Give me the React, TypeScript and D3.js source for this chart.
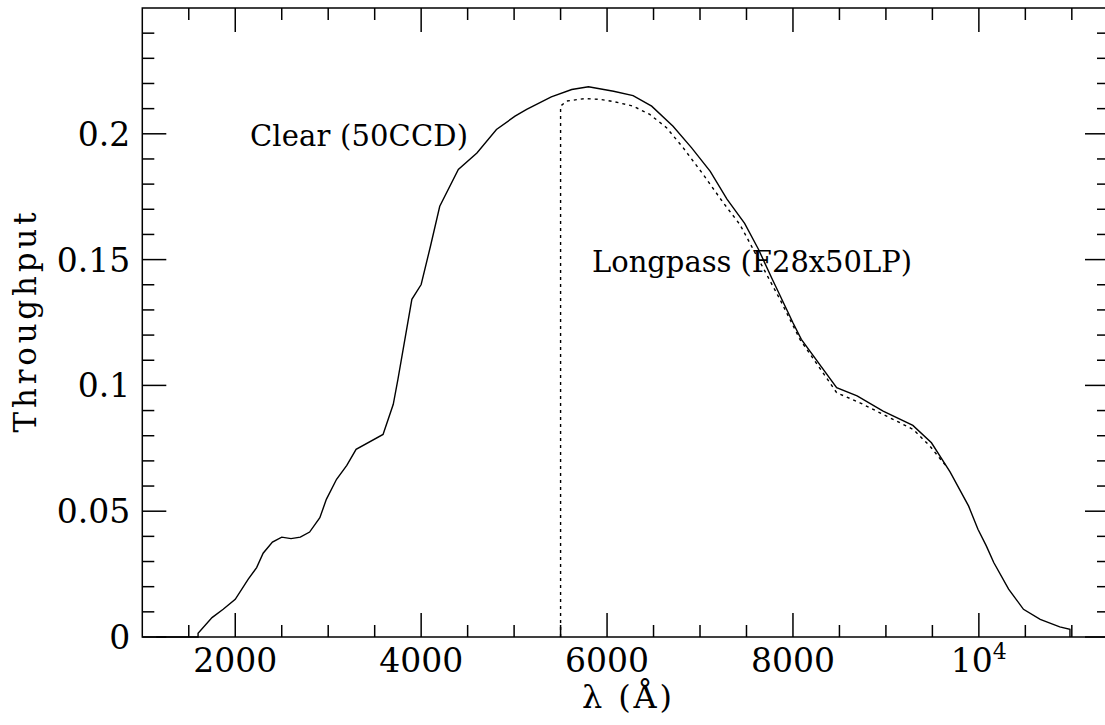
import { useEffect, useRef } from "react";
import * as d3 from "d3";

// Clear (50CCD) throughput
const clearWave = [1150, 1600, 1600, 1750, 1870, 2000, 2140, 2230, 2300, 2400, 2500, 2600, 2700, 2800, 2910, 2980, 3090, 3200, 3300, 3590, 3700, 3750, 3900, 4000, 4100, 4200, 4400, 4600, 4810, 5010, 5135, 5400, 5620, 5800, 6070, 6280, 6480, 6710, 6910, 7110, 7290, 7480, 7630, 7770, 8000, 8090, 8470, 8690, 8970, 9290, 9490, 9690, 9890, 9990, 10080, 10160, 10320, 10480, 10660, 10870, 10980, 10980];
const clearThru = [0, 0, 0.0015, 0.0077, 0.011, 0.015, 0.023, 0.0276, 0.0333, 0.0377, 0.0397, 0.0391, 0.0397, 0.0417, 0.0474, 0.0547, 0.0627, 0.0682, 0.0746, 0.0805, 0.0925, 0.1024, 0.1342, 0.1401, 0.1553, 0.1712, 0.1858, 0.1924, 0.2017, 0.207, 0.2097, 0.2147, 0.2176, 0.2187, 0.2169, 0.2152, 0.211, 0.203, 0.1944, 0.1851, 0.174, 0.1644, 0.154, 0.1428, 0.1249, 0.1183, 0.0991, 0.0958, 0.0898, 0.0841, 0.0772, 0.0656, 0.052, 0.0428, 0.0362, 0.0296, 0.019, 0.011, 0.007, 0.004, 0.0031, 0];

// Longpass (F28x50LP)
const lpWave = [5500, 5500, 5565, 5760, 5920, 6085, 6280, 6460, 6640, 6820, 7035, 7250, 7430, 7860, 8075, 8470, 8720, 9007, 9294, 9473, 9617, 9650];
const lpThru = [0, 0.211, 0.213, 0.214, 0.2137, 0.2127, 0.211, 0.2077, 0.2024, 0.1944, 0.1838, 0.1726, 0.1639, 0.1342, 0.1183, 0.0971, 0.0931, 0.0878, 0.0825, 0.0759, 0.0693, 0.068];

const xMajor = [2000, 4000, 6000, 8000, 10000];
const xMajorLabels = ["2000", "4000", "6000", "8000", "10"];
const yMajor = [0, 0.05, 0.1, 0.15, 0.2];
const yMajorLabels = ["0", "0.05", "0.1", "0.15", "0.2"];

const FONT = "'DejaVu Serif', serif";

export default function App() {
  const svgRef = useRef<SVGSVGElement>(null);

  useEffect(() => {
    if (!svgRef.current) return;
    const width = 1105;
    const height = 725;
    const margin = { top: 8, left: 142.3, bottom: 88, right: -4 };

    const svg = d3.select(svgRef.current);
    svg.selectAll("*").remove();

    const x = d3.scaleLinear().domain([1000, 11400]).range([margin.left, width - margin.right]);
    const y = d3.scaleLinear().domain([0, 0.25]).range([height - margin.bottom, margin.top]);

    const x0 = x.range()[0], x1 = x.range()[1];
    const y0 = y.range()[0], y1 = y.range()[1];

    // frame
    svg.append("rect")
      .attr("x", x0).attr("y", y1)
      .attr("width", x1 - x0).attr("height", y0 - y1)
      .attr("fill", "none").attr("stroke", "#000").attr("stroke-width", 1.5);

    // ticks (inward, all four sides)
    const xMinor = d3.range(1500, 11400, 500).filter(v => !xMajor.includes(v));
    const yMinor = d3.range(1, 25).map(i => i / 100).filter(v => !yMajor.some(m => Math.abs(m - v) < 1e-9));

    const ticks = svg.append("g").attr("stroke", "#000").attr("stroke-width", 1.5);
    const xt = [...xMajor.map(v => ({ v, len: 24 })), ...xMinor.map(v => ({ v, len: 12 }))];
    xt.forEach(t => {
      ticks.append("line").attr("x1", x(t.v)).attr("x2", x(t.v)).attr("y1", y0).attr("y2", y0 - t.len);
      ticks.append("line").attr("x1", x(t.v)).attr("x2", x(t.v)).attr("y1", y1).attr("y2", y1 + t.len);
    });
    const yt = [...yMajor.map(v => ({ v, len: 24 })), ...yMinor.map(v => ({ v, len: 12 }))];
    yt.forEach(t => {
      ticks.append("line").attr("y1", y(t.v)).attr("y2", y(t.v)).attr("x1", x0).attr("x2", x0 + t.len);
      ticks.append("line").attr("y1", y(t.v)).attr("y2", y(t.v)).attr("x1", x1).attr("x2", x1 - t.len);
    });

    // tick labels
    xMajor.forEach((v, i) => {
      const t = svg.append("text")
        .attr("x", x(v)).attr("y", y0 + 35)
        .attr("text-anchor", "middle")
        .attr("font-family", FONT).attr("font-size", 33)
        .text(xMajorLabels[i]);
      if (v === 10000) {
        t.append("tspan").attr("font-size", 22).attr("dy", -13).text("4");
      }
    });
    yMajor.forEach((v, i) => {
      svg.append("text")
        .attr("x", x0 - 12).attr("y", y(v) + 12)
        .attr("text-anchor", "end")
        .attr("font-family", FONT).attr("font-size", 33)
        .text(yMajorLabels[i]);
    });

    // axis titles
    svg.append("text")
      .attr("x", 627).attr("y", 708)
      .attr("text-anchor", "middle")
      .attr("font-family", FONT).attr("font-size", 32)
      .attr("textLength", 90).attr("lengthAdjust", "spacing")
      .text("λ (Å)");
    svg.append("text")
      .attr("transform", `translate(36,${(y0 + y1) / 2}) rotate(-90)`)
      .attr("text-anchor", "middle")
      .attr("font-family", FONT).attr("font-size", 31)
      .attr("textLength", 220).attr("lengthAdjust", "spacing")
      .text("Throughput");

    // curves
    const line = d3.line<[number, number]>().x(d => x(d[0])).y(d => y(d[1]));
    const clearPts = clearWave.map((w, i) => [w, clearThru[i]] as [number, number]);
    const lpPts = lpWave.map((w, i) => [w, lpThru[i]] as [number, number]);

    svg.append("path")
      .attr("d", line(lpPts))
      .attr("fill", "none").attr("stroke", "#000").attr("stroke-width", 1.4)
      .attr("stroke-dasharray", "3,4");
    svg.append("path")
      .attr("d", line(clearPts))
      .attr("fill", "none").attr("stroke", "#000").attr("stroke-width", 1.4);

    // annotations
    svg.append("text")
      .attr("x", 250).attr("y", 146)
      .attr("font-family", FONT).attr("font-size", 29)
      .attr("textLength", 218).attr("lengthAdjust", "spacing")
      .text("Clear (50CCD)");
    svg.append("text")
      .attr("x", 592).attr("y", 272)
      .attr("font-family", FONT).attr("font-size", 29)
      .attr("textLength", 320).attr("lengthAdjust", "spacing")
      .text("Longpass (F28x50LP)");
  }, []);

  return (
    <svg
      ref={svgRef}
      width={1105}
      height={725}
      style={{ position: "fixed", left: 0, top: 0, background: "#fff" }}
    />
  );
}
